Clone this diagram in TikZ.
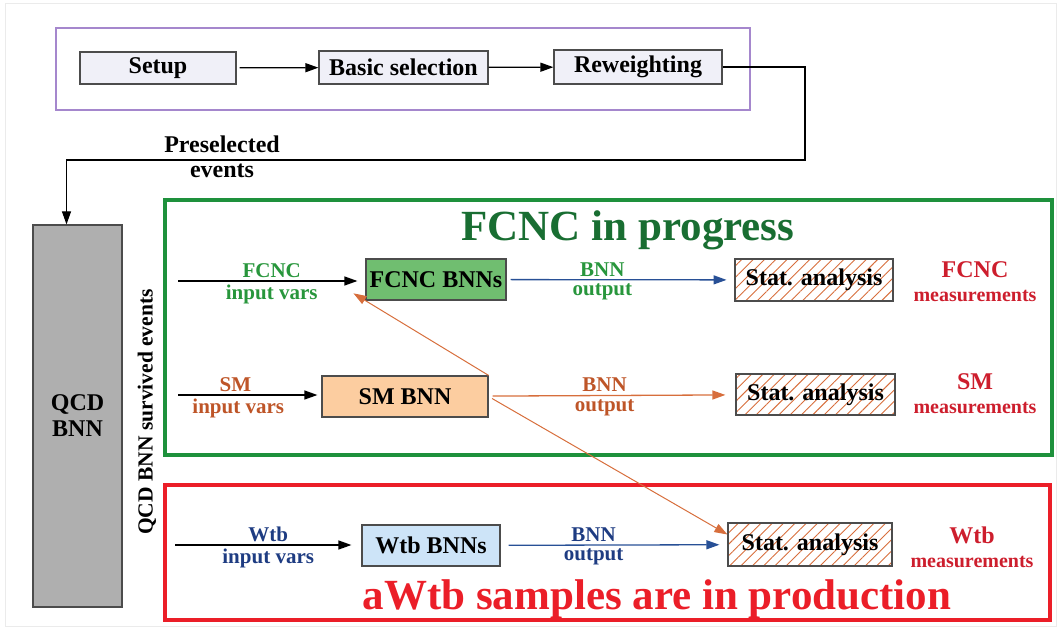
\documentclass[tikz,border=0pt]{standalone}
\usepackage{fontspec}
\setmainfont{Liberation Serif}
\usetikzlibrary{arrows.meta,patterns.meta}
\definecolor{fgreen}{RGB}{40,150,60}
\definecolor{tgreen}{RGB}{25,110,50}
\definecolor{frgreen}{RGB}{30,145,60}
\definecolor{sorange}{RGB}{190,85,40}
\definecolor{aorange}{RGB}{215,110,60}
\definecolor{wblue}{RGB}{30,60,130}
\definecolor{ablue}{RGB}{40,80,150}
\definecolor{mred}{RGB}{205,30,45}
\definecolor{fred}{RGB}{235,30,40}
\definecolor{purp}{RGB}{165,135,205}
\definecolor{lav}{RGB}{240,240,248}
\definecolor{qgray}{RGB}{175,175,175}
\definecolor{fcfill}{RGB}{112,190,112}
\definecolor{smfill}{RGB}{252,205,160}
\definecolor{wfill}{RGB}{205,228,248}
\begin{document}
\begin{tikzpicture}[x=1pt,y=-1pt,
  box/.style={draw=black!70,line width=1.2pt,inner sep=0pt,font=\fontsize{24}{26}\selectfont\bfseries},
  stat/.style={box,pattern={Lines[angle=45,distance=8pt,line width=0.9pt]},pattern color=aorange,minimum width=160,minimum height=42},
  arr/.style={-{Triangle[length=13pt,width=9pt]},line width=1.3pt},
  lab/.style={font=\fontsize{21}{22}\selectfont\bfseries,inner sep=0pt},
  up/.style={lab,above=3pt},
  down/.style={lab,below=3pt},
  meas/.style={align=center,text=mred,font=\fontsize{24}{24}\selectfont\bfseries},
  frame/.style={line width=4pt}]
  \useasboundingbox (0,0) rectangle (1059,628);
  \draw[black!8] (5,3) rectangle (1056,626);
  % preselection chain
  \draw[purp,line width=1.3pt] (56,28) rectangle (750,110);
  \node[box,fill=lav,minimum width=156,minimum height=32] (setup) at (158,68) {Setup};
  \node[box,fill=lav,minimum width=169,minimum height=33] (basic) at (403.5,67.5) {Basic selection};
  \node[box,fill=lav,minimum width=168,minimum height=34] (rew) at (638,67) {Reweighting};
  \draw[arr,shorten <=3pt] (setup) -- (basic);
  \draw[arr] (basic) -- (rew);
  \node[box,fill=qgray,minimum width=89,minimum height=382,align=center] (qcd) at (77.5,416) {QCD\\BNN};
  \coordinate (turn) at (805,160);
  \draw[arr,line width=1.1pt] (rew.east) -| (turn) -| ([xshift=-11pt]qcd.north);
  \node[align=center,font=\fontsize{24}{25}\selectfont\bfseries] (presel) at (222,157) {Preselected\\events};
  \node[rotate=90,font=\fontsize{21.5}{22}\selectfont\bfseries] (surv) at (147,412) {QCD BNN survived events};
  % FCNC and SM
  \draw[frgreen,frame] (165,200) rectangle (1052,455);
  \node[text=tgreen,font=\fontsize{43}{44}\selectfont\bfseries] (fcnct) at (628,230) {FCNC in progress};
  \coordinate (fin) at (178,281);
  \coordinate (sin) at (178,395);
  \node[box,fill=fcfill,minimum width=140,minimum height=41] (fcncbnn) at (436,279.5) {FCNC BNNs};
  \node[box,fill=smfill,minimum width=166,minimum height=41] (smbnn) at (405,396.5) {SM BNN};
  \node[stat,minimum width=158] (statf) at (814,280) {Stat. analysis};
  \node[stat,minimum width=159,minimum height=41] (stats) at (815.5,394.5) {Stat. analysis};
  \draw[arr,shorten >=8pt] (fin) -- node[up,text=fgreen] {FCNC} node[down,text=fgreen] {input vars} (fin-|fcncbnn.west);
  \draw[arr,shorten >=4pt] (sin) -- node[up,text=sorange,pos=0.4] {SM} node[down,text=sorange,pos=0.42] {input vars} (sin-|smbnn.west);
  \draw[arr,ablue,shorten <=4pt,shorten >=8pt] (fcncbnn) -- node[up,text=fgreen,pos=0.42] {BNN} node[down,text=fgreen,pos=0.42] {output} (statf);
  \draw[arr,aorange,shorten <=4pt,shorten >=10pt] (smbnn) -- node[up,text=sorange,pos=0.47] {BNN} node[down,text=sorange,pos=0.47] {output} (stats);
  \node[meas] (fcncm) at (975,282) {FCNC\\{\fontsize{20}{22}\selectfont measurements}};
  \node[meas] (smm) at (975,394) {SM\\{\fontsize{20}{22}\selectfont measurements}};
  % Wtb
  \draw[fred,frame] (165,485) rectangle (1050,620);
  \node[text=fred,font=\fontsize{43}{44}\selectfont\bfseries] (wtbt) at (657,599) {aWtb samples are in production};
  \coordinate (win) at (175,545);
  \node[box,fill=wfill,minimum width=138,minimum height=41] (wtbbnn) at (431,545.5) {Wtb BNNs};
  \node[stat,minimum width=164,minimum height=43] (statw) at (810,544.5) {Stat. analysis};
  \draw[arr,shorten >=10pt] (win) -- node[up,text=wblue] {Wtb} node[down,text=wblue] {input vars} (win-|wtbbnn.west);
  \draw[arr,ablue,shorten <=8pt,shorten >=8pt] (wtbbnn) -- node[up,text=wblue,pos=0.41] {BNN} node[down,text=wblue,pos=0.41] {output} (statw);
  \node[meas] (wtbm) at (972,547) {Wtb\\{\fontsize{20}{22}\selectfont measurements}};
  % cross links
  \draw[arr,aorange,line width=1pt,shorten >=-14pt] (smbnn.north east) -- (fcncbnn.south west);
  \draw[arr,aorange,line width=1pt,shorten <=4pt] (smbnn.east) -- ([yshift=10pt]statw.west);
\end{tikzpicture}
\end{document}
